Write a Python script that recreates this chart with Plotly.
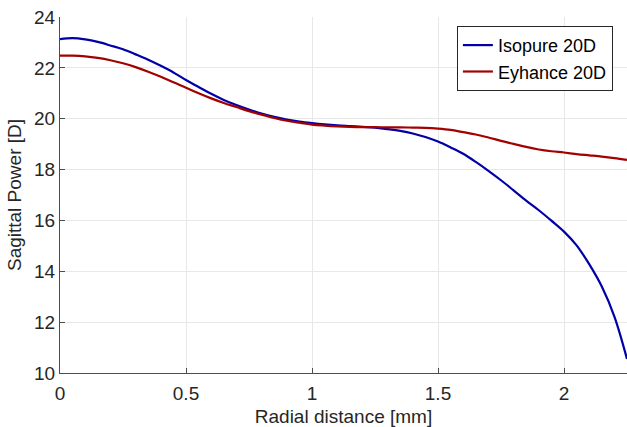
import plotly.graph_objects as go

radial_mm = [0.0, 0.05, 0.1, 0.15, 0.2, 0.25, 0.3, 0.35, 0.4, 0.45, 0.5, 0.55, 0.6, 0.65, 0.7, 0.75,
             0.8, 0.85, 0.9, 0.95, 1.0, 1.05, 1.1, 1.15, 1.2, 1.25, 1.3, 1.35, 1.4, 1.45, 1.5, 1.55,
             1.6, 1.65, 1.7, 1.75, 1.8, 1.85, 1.9, 1.95, 2.0, 2.05, 2.1, 2.15, 2.2, 2.25]

isopure_20d = [23.13, 23.17, 23.12, 23.02, 22.88, 22.73, 22.53, 22.32, 22.08, 21.82, 21.52, 21.25,
               20.98, 20.74, 20.54, 20.36, 20.2, 20.07, 19.97, 19.89, 19.83, 19.78, 19.74, 19.71,
               19.68, 19.65, 19.59, 19.52, 19.42, 19.28, 19.10, 18.87, 18.62, 18.30, 17.95, 17.58,
               17.18, 16.78, 16.40, 15.99, 15.56, 15.02, 14.28, 13.40, 12.22, 10.55]

eyhance_20d = [22.48, 22.48, 22.45, 22.39, 22.3, 22.18, 22.03, 21.85, 21.65, 21.43, 21.22, 21.0,
               20.8, 20.62, 20.46, 20.3, 20.16, 20.03, 19.92, 19.84, 19.77, 19.73, 19.7, 19.68,
               19.67, 19.67, 19.66, 19.66, 19.65, 19.64, 19.61, 19.56, 19.47, 19.38, 19.26, 19.13,
               19.01, 18.89, 18.79, 18.72, 18.67, 18.61, 18.56, 18.51, 18.45, 18.38]

x_ticks = [0, 0.5, 1, 1.5, 2]
x_tick_text = ["0", "0.5", "1", "1.5", "2"]
y_ticks = [10, 12, 14, 16, 18, 20, 22, 24]

fig = go.Figure()
fig.add_trace(go.Scatter(x=radial_mm, y=isopure_20d, mode="lines", name="Isopure 20D",
                         line=dict(color="#0000a6", width=2.2, shape="spline")))
fig.add_trace(go.Scatter(x=radial_mm, y=eyhance_20d, mode="lines", name="Eyhance 20D",
                         line=dict(color="#a30000", width=2.2, shape="spline")))

font = dict(family="Arial, Liberation Sans, sans-serif", size=19, color="#262626")

fig.update_layout(
    width=627, height=427,
    margin=dict(l=60, r=0, t=17, b=54),
    paper_bgcolor="white", plot_bgcolor="white",
    font=font,
    showlegend=True,
    legend=dict(x=0.70, y=0.975, xanchor="left", yanchor="top",
                bgcolor="white", bordercolor="#262626", borderwidth=1,
                font=dict(family="Arial, Liberation Sans, sans-serif", size=18, color="#000000"),
                tracegroupgap=0, itemwidth=30),
    xaxis=dict(range=[0, 2.25], tickvals=x_ticks, ticktext=x_tick_text, automargin=False,
               showgrid=True, gridcolor="#e8e8e8", gridwidth=1,
               showline=True, linecolor="#4d4d4d", linewidth=1,
               ticks="inside", ticklen=5, tickcolor="#4d4d4d",
               zeroline=False, tickfont=font, ticklabelstandoff=3,
               title=dict(text="Radial distance [mm]", font=font, standoff=9)),
    yaxis=dict(range=[10, 24], tickvals=y_ticks, automargin=False,
               showgrid=True, gridcolor="#e8e8e8", gridwidth=1,
               showline=True, linecolor="#4d4d4d", linewidth=1,
               ticks="inside", ticklen=5, tickcolor="#4d4d4d",
               zeroline=False, tickfont=font,
               title=dict(text="Sagittal Power [D]", font=font, standoff=7)),
)

fig.write_html("out.html", config={"displayModeBar": False},
               post_script="document.body.style.margin='0';document.body.style.overflow='hidden';")
